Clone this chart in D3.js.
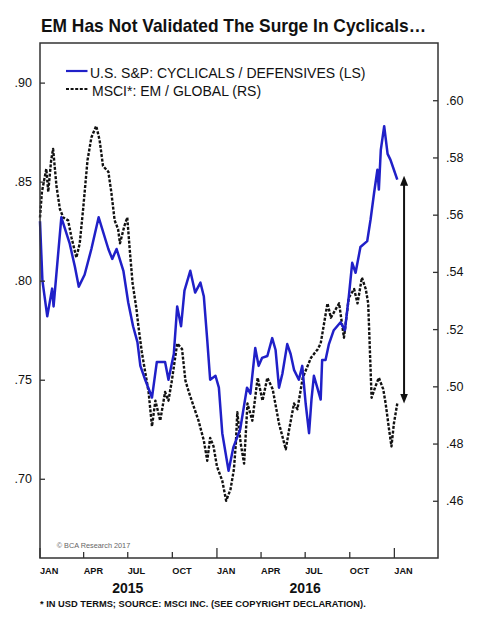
<!DOCTYPE html>
<html>
<head>
<meta charset="utf-8">
<script src="https://cdn.jsdelivr.net/npm/d3@7"></script>
<style>
	body { margin: 0; background: #fff; }
	svg { display: block; font-family: "Liberation Sans", Arial, sans-serif; }
</style>
</head>
<body>
<div id="chart-area"></div>
<script>
const margin = {
	top: 43,
	left: 40,
	right: 47,
	bottom: 67
}

const width = 485 - margin.left - margin.right
const height = 625 - margin.top - margin.bottom

// U.S. S&P cyclicals / defensives (left scale)
const cycDates = [
	'2015-01-01', '2015-01-06', '2015-01-16', '2015-01-26', '2015-01-29', '2015-02-14', '2015-03-03',
	'2015-03-14', '2015-03-22', '2015-04-03', '2015-04-17', '2015-05-02', '2015-05-22', '2015-05-30',
	'2015-06-08', '2015-06-22', '2015-07-02', '2015-07-12', '2015-07-21', '2015-07-27', '2015-08-06',
	'2015-08-20', '2015-08-30', '2015-09-16', '2015-09-23', '2015-10-04', '2015-10-11', '2015-10-19',
	'2015-10-26', '2015-11-07', '2015-11-17', '2015-11-28', '2015-12-05', '2015-12-12', '2015-12-18',
	'2015-12-29', '2016-01-05', '2016-01-12', '2016-01-25', '2016-02-04', '2016-02-18', '2016-03-03',
	'2016-03-10', '2016-03-20', '2016-03-27', '2016-04-03', '2016-04-14', '2016-04-24', '2016-05-01',
	'2016-05-08', '2016-05-15', '2016-05-25', '2016-06-01', '2016-06-08', '2016-06-18', '2016-06-25',
	'2016-07-02', '2016-07-09', '2016-07-14', '2016-07-19', '2016-07-26', '2016-08-02', '2016-08-05',
	'2016-08-12', '2016-08-19', '2016-08-29', '2016-09-12', '2016-09-21', '2016-09-29', '2016-10-06',
	'2016-10-13', '2016-10-23', '2016-11-06', '2016-11-13', '2016-11-20', '2016-11-27', '2016-11-30',
	'2016-12-04', '2016-12-11', '2016-12-18', '2016-12-24', '2016-12-31', '2017-01-07'
]
const cycValues = [
	.830, .800, .782, .796, .787, .832, .819,
	.807, .797, .803, .816, .832, .816, .811,
	.816, .805, .789, .777, .769, .757, .750,
	.741, .759, .759, .750, .763, .787, .777,
	.795, .805, .794, .799, .792, .770, .750,
	.752, .746, .723, .704, .716, .725, .746,
	.743, .766, .757, .761, .762, .771, .765,
	.746, .753, .768, .763, .755, .750, .757,
	.738, .723, .740, .752, .746, .740, .760,
	.760, .768, .775, .779, .775, .792, .809,
	.804, .817, .820, .831, .844, .856, .846,
	.866, .878, .864, .861, .856, .851
]

// MSCI EM / global (right scale)
const emDates = [
	'2015-01-01', '2015-01-05', '2015-01-14', '2015-01-18', '2015-01-24', '2015-01-28', '2015-02-04',
	'2015-02-11', '2015-02-18', '2015-02-28', '2015-03-07', '2015-03-17', '2015-03-24', '2015-03-31',
	'2015-04-09', '2015-04-17', '2015-04-27', '2015-05-04', '2015-05-11', '2015-05-22', '2015-05-28',
	'2015-06-04', '2015-06-11', '2015-06-15', '2015-06-24', '2015-06-30', '2015-07-05', '2015-07-11',
	'2015-07-19', '2015-07-23', '2015-07-30', '2015-08-06', '2015-08-13', '2015-08-20', '2015-08-27',
	'2015-09-06', '2015-09-16', '2015-09-23', '2015-09-30', '2015-10-11', '2015-10-21', '2015-10-28',
	'2015-11-04', '2015-11-14', '2015-11-24', '2015-12-05', '2015-12-12', '2015-12-18', '2015-12-25',
	'2016-01-01', '2016-01-12', '2016-01-20', '2016-01-29', '2016-02-05', '2016-02-09', '2016-02-12',
	'2016-02-19', '2016-02-26', '2016-03-04', '2016-03-14', '2016-03-25', '2016-04-04', '2016-04-14',
	'2016-04-25', '2016-05-08', '2016-05-22', '2016-05-29', '2016-06-08', '2016-06-15', '2016-06-26',
	'2016-07-13', '2016-07-27', '2016-08-02', '2016-08-16', '2016-08-23', '2016-09-09', '2016-09-19',
	'2016-09-29', '2016-10-10', '2016-10-17', '2016-10-26', '2016-11-03', '2016-11-08', '2016-11-11',
	'2016-11-15', '2016-11-23', '2016-11-30', '2016-12-09', '2016-12-14', '2016-12-21', '2016-12-26',
	'2016-12-31', '2017-01-07'
]
const emValues = [
	.559, .568, .576, .568, .579, .583, .570,
	.562, .559, .558, .552, .545, .550, .562,
	.579, .587, .591, .586, .577, .575, .568,
	.558, .555, .550, .556, .559, .548, .536,
	.527, .521, .512, .505, .498, .486, .495,
	.488, .498, .495, .502, .515, .513, .502,
	.498, .493, .488, .481, .474, .482, .479,
	.472, .467, .460, .464, .471, .480, .491,
	.480, .473, .494, .488, .503, .495, .503,
	.499, .487, .478, .485, .494, .492, .503,
	.510, .513, .515, .529, .524, .529, .517,
	.531, .534, .529, .538, .534, .529, .515,
	.496, .500, .503, .499, .494, .485, .479,
	.487, .494
]

// axis ticks
const leftTicks = [.70, .75, .80, .85, .90]
const rightTicks = [.46, .48, .50, .52, .54, .56, .58, .60]
const monthTicks = ['2015-01-01', '2015-04-01', '2015-07-01', '2015-10-01', '2016-01-01',
	'2016-04-01', '2016-07-01', '2016-10-01', '2017-01-01']
const monthLabels = ['JAN', 'APR', 'JUL', 'OCT', 'JAN', 'APR', 'JUL', 'OCT', 'JAN']
const years = [{ label: '2015', mid: '2015-07-01' }, { label: '2016', mid: '2016-07-01' }]

// gap arrow: from cyclicals level (LS) down to EM level (RS)
const gapDate = '2017-01-21'
const gapTop = .853
const gapBottom = .494

const parse = d3.timeParse('%Y-%m-%d')

const cycData = cycDates.map((d, i) => ({ date: parse(d), value: cycValues[i] }))
const emData = emDates.map((d, i) => ({ date: parse(d), value: emValues[i] }))

let svg = d3.select('#chart-area')
	.append('svg')
	.attr('width', 485)
	.attr('height', 625)

// title
svg.append('text')
	.attr('x', 41)
	.attr('y', 31.5)
	.attr('textLength', 385)
	.attr('lengthAdjust', 'spacingAndGlyphs')
	.style('font-size', '18.5px')
	.style('font-weight', 'bold')
	.style('fill', '#111')
	.text('EM Has Not Validated The Surge In Cyclicals…')

let g = svg.append('g')
	.attr('transform', 'translate(' + margin.left + ',' + margin.top + ')')

// scales
let xScale = d3.scaleTime()
	.domain([parse('2015-01-01'), parse('2017-04-01')])
	.range([0, width])

let yLeft = d3.scaleLinear()
	.domain([.66, .92])
	.range([height, 0])

let yRight = d3.scaleLinear()
	.domain([.44, .62])
	.range([height, 0])

// lines
let emLine = d3.line()
	.x(d => xScale(d.date))
	.y(d => yRight(d.value))

let cycLine = d3.line()
	.x(d => xScale(d.date))
	.y(d => yLeft(d.value))

g.append('path')
	.datum(emData)
	.attr('d', emLine)
	.attr('fill', 'none')
	.attr('stroke', '#111')
	.attr('stroke-width', 2.4)
	.attr('stroke-dasharray', '3,1.6')
	.attr('stroke-linejoin', 'round')

g.append('path')
	.datum(cycData)
	.attr('d', cycLine)
	.attr('fill', 'none')
	.attr('stroke', '#2020c8')
	.attr('stroke-width', 2.5)
	.attr('stroke-linejoin', 'round')

// arrow
let defs = svg.append('defs')
defs.append('marker')
	.attr('id', 'head')
	.attr('viewBox', '0 0 10 8')
	.attr('refX', 6)
	.attr('refY', 4)
	.attr('markerUnits', 'userSpaceOnUse')
	.attr('markerWidth', 10)
	.attr('markerHeight', 8)
	.attr('orient', 'auto-start-reverse')
	.append('path')
	.attr('d', 'M0,0L10,4L0,8Z')
	.attr('fill', '#111')

let ax = xScale(parse(gapDate))
g.append('line')
	.attr('x1', ax)
	.attr('x2', ax)
	.attr('y1', yLeft(gapTop) + 4)
	.attr('y2', yRight(gapBottom) - 4)
	.attr('stroke', '#111')
	.attr('stroke-width', 2)
	.attr('marker-start', 'url(#head)')
	.attr('marker-end', 'url(#head)')

// frame
g.append('rect')
	.attr('width', width)
	.attr('height', height)
	.attr('fill', 'none')
	.attr('stroke', '#333')
	.attr('stroke-width', 1.5)

// left axis
let leftAxis = d3.axisLeft(yLeft)
	.tickValues(leftTicks)
	.tickSizeInner(-5)
	.tickSizeOuter(0)
	.tickPadding(8)
	.tickFormat(d => d3.format('.2f')(d).replace(/^0/, ''))

g.append('g')
	.attr('class', 'y-axis')
	.call(leftAxis)
	.call(a => a.select('.domain').remove())
	.call(a => a.selectAll('line').attr('stroke', '#333').attr('stroke-width', 1.3))
	.call(a => a.selectAll('text').style('font-size', '12.5px').style('fill', '#111')
		.style('font-family', '"Liberation Sans", Arial, sans-serif'))

// right axis
let rightAxis = d3.axisRight(yRight)
	.tickValues(rightTicks)
	.tickSizeInner(-5)
	.tickSizeOuter(0)
	.tickPadding(8)
	.tickFormat(d => d3.format('.2f')(d).replace(/^0/, ''))

g.append('g')
	.attr('class', 'y-axis-right')
	.attr('transform', 'translate(' + width + ',0)')
	.call(rightAxis)
	.call(a => a.select('.domain').remove())
	.call(a => a.selectAll('line').attr('stroke', '#333').attr('stroke-width', 1.3))
	.call(a => a.selectAll('text').style('font-size', '12.5px').style('fill', '#111')
		.style('font-family', '"Liberation Sans", Arial, sans-serif'))

// x axis: longer ticks at january
let xAxis = g.append('g')
	.attr('class', 'x-axis')
	.attr('transform', 'translate(0,' + height + ')')

xAxis.selectAll('line')
	.data(monthTicks)
	.enter()
	.append('line')
	.attr('x1', d => xScale(parse(d)))
	.attr('x2', d => xScale(parse(d)))
	.attr('y1', 0)
	.attr('y2', d => d.slice(5, 7) === '01' ? -10 : -6)
	.attr('stroke', '#333')
	.attr('stroke-width', 1.3)

xAxis.selectAll('text.month')
	.data(monthTicks)
	.enter()
	.append('text')
	.attr('class', 'month')
	.attr('x', d => xScale(parse(d)))
	.attr('y', 16)
	.style('font-size', '9.2px')
	.style('font-weight', 'bold')
	.style('fill', '#111')
	.text((d, i) => monthLabels[i])

xAxis.selectAll('text.year')
	.data(years)
	.enter()
	.append('text')
	.attr('class', 'year')
	.attr('x', d => xScale(parse(d.mid)))
	.attr('y', 35)
	.attr('text-anchor', 'middle')
	.style('font-size', '14px')
	.style('font-weight', 'bold')
	.style('fill', '#111')
	.text(d => d.label)

// legend
let legend = g.append('g')
	.attr('transform', 'translate(26,28)')

legend.append('line')
	.attr('x1', 0).attr('x2', 21.5)
	.attr('y1', 0).attr('y2', 0)
	.attr('stroke', '#2020c8')
	.attr('stroke-width', 2.2)

legend.append('line')
	.attr('x1', 0).attr('x2', 21.5)
	.attr('y1', 18).attr('y2', 18)
	.attr('stroke', '#111')
	.attr('stroke-width', 2.2)
	.attr('stroke-dasharray', '3,1.6')

legend.append('text')
	.attr('x', 24)
	.attr('y', 7.3)
	.style('font-size', '14px')
	.style('fill', '#111')
	.text('U.S. S&P: CYCLICALS / DEFENSIVES (LS)')

legend.append('text')
	.attr('x', 26)
	.attr('y', 24.7)
	.style('font-size', '14px')
	.style('fill', '#111')
	.text('MSCI*: EM / GLOBAL (RS)')

// copyright
g.append('text')
	.attr('x', 16.7)
	.attr('y', height - 10)
	.style('font-size', '7.3px')
	.style('fill', '#666')
	.text('© BCA Research 2017')

// footnote
svg.append('text')
	.attr('x', 40)
	.attr('y', 607)
	.style('font-size', '9.3px')
	.style('font-weight', 'bold')
	.style('fill', '#111')
	.text('* IN USD TERMS; SOURCE: MSCI INC. (SEE COPYRIGHT DECLARATION).')
</script>
</body>
</html>
